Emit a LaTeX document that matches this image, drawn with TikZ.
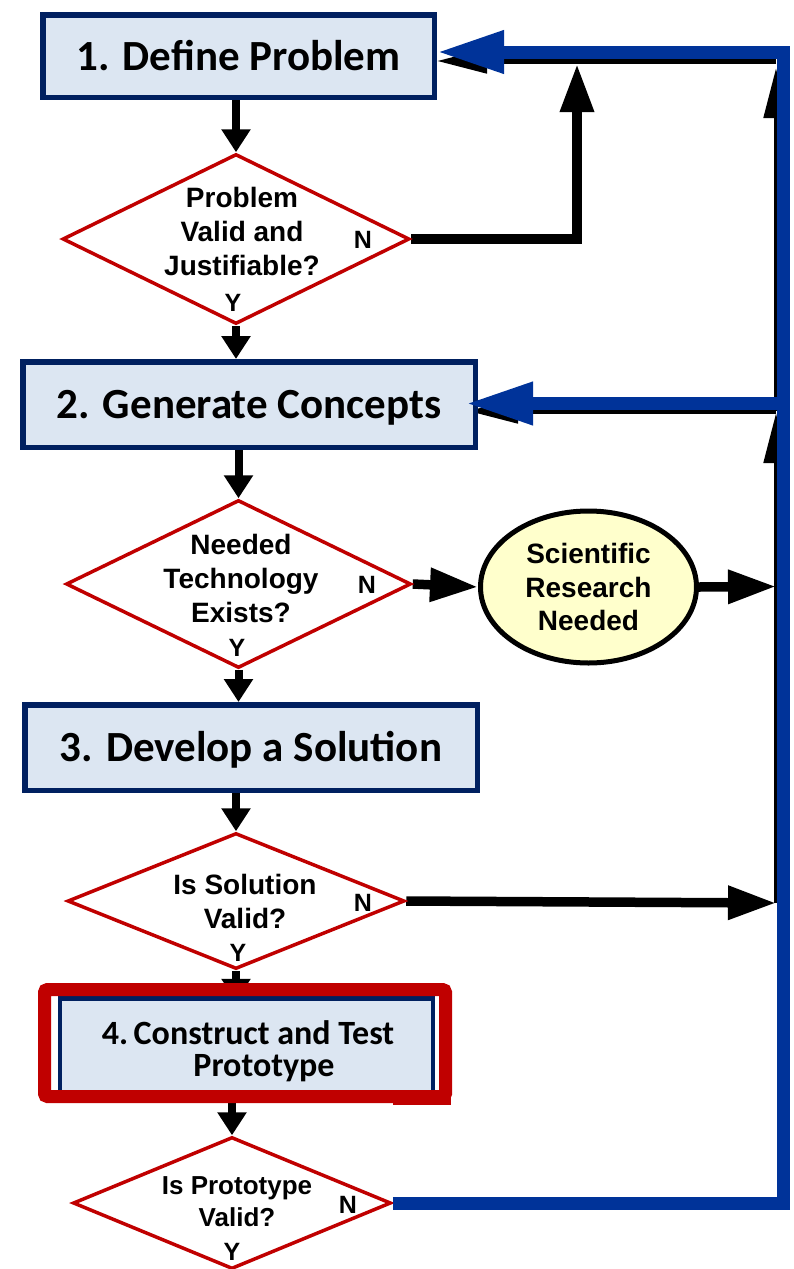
\documentclass[tikz,border=0pt]{standalone}
\usepackage{fontspec}
\usetikzlibrary{arrows.meta,shapes.geometric,backgrounds}
\newfontfamily\carlito{Carlito}
\newfontfamily\arial{Liberation Sans}
\definecolor{boxfill}{HTML}{DCE6F2}
\definecolor{navy}{HTML}{002060}
\definecolor{dred}{HTML}{C00000}
\definecolor{flowblue}{HTML}{003399}
\definecolor{research}{HTML}{FFFFCC}
\begin{document}
\begin{tikzpicture}[x=1pt,y=-1pt,
  stepbox/.style={rectangle, draw=navy, line width=5.5pt, fill=boxfill, inner sep=0pt,
    text height=28pt, text depth=0pt, font=\carlito\bfseries\fontsize{43}{46}\selectfont},
  decision/.style={diamond, draw=dred, line width=3.5pt, fill=white, inner sep=0pt},
  qtext/.style={font=\arial\bfseries\fontsize{28}{34}\selectfont, align=center, inner sep=0pt},
  yn/.style={font=\arial\bfseries\fontsize{25}{25}\selectfont, inner sep=0pt},
  downarrow/.style={draw=black, line width=8pt, -{Triangle[length=23pt,width=28pt]}},
  across/.style={draw=black, line width=9.5pt, -{Triangle[length=48pt,width=32pt]}},
  rail/.style={draw=black, line width=5pt, -{Triangle[length=50pt,width=24pt]}},
  returnline/.style={draw=flowblue, line width=13pt, line join=miter, -{Triangle[length=67pt,width=40pt]}},
]
\useasboundingbox (0,0) rectangle (794,1269);

% process steps
\node[stepbox, minimum width=391.5pt, minimum height=82.5pt] (b1) at (238.5,56) {1. Define Problem};
\node[stepbox, minimum width=452.5pt, minimum height=85.5pt] (b2) at (249,404.5) {2. Generate Concepts};
\node[stepbox, minimum width=452.5pt, minimum height=85.5pt] (b3) at (251,747.5) {3. Develop a Solution};
\node[rectangle, draw=navy, line width=4.5pt, fill=boxfill, inner sep=0pt,
      minimum width=373pt, minimum height=93.5pt] (b4) at (246.5,1045.25) {};
\node[inner sep=0pt, font=\carlito\bfseries\fontsize{34}{32}\selectfont] (t4) at (248,1053)
  {\begin{tabular}{@{}r@{\,}c@{}}4. & Construct and Test\\ & Prototype\end{tabular}};
% highlight frame around step 4
\node[draw=dred, line width=13pt, rounded corners=3pt, inner sep=0pt,
      minimum width=401pt, minimum height=107pt] (rf) at (245,1043) {};
\fill[dred] (393,1098) rectangle (451,1104.5);

% decisions
\node[decision, minimum width=347pt, minimum height=170pt] (d1) at (236,239) {};
\node[decision, minimum width=345pt, minimum height=168pt] (d2) at (238.5,584) {};
\node[decision, minimum width=337pt, minimum height=136pt] (d3) at (236,901) {};
\node[decision, minimum width=318pt, minimum height=132pt] (d4) at (232,1203) {};

\node[qtext] (q1) at (242,231) {Problem\\Valid and\\Justifiable?};
\node[qtext] (q2) at (241,578) {Needed\\Technology\\Exists?};
\node[qtext] (q3) at (245,901) {Is Solution\\Valid?};
\node[qtext, font=\arial\bfseries\fontsize{26}{32}\selectfont] (q4) at (237,1202) {Is Prototype\\Valid?};

\node[yn] (n1) at (363,240) {N};
\node[yn] (y1) at (233,303) {Y};
\node[yn] (n2) at (367,585) {N};
\node[yn] (y2) at (237,648) {Y};
\node[yn] (n3) at (363,903) {N};
\node[yn] (y3) at (238,953) {Y};
\node[yn] (n4) at (348,1205) {N};
\node[yn] (y4) at (232,1252) {Y};

% research ellipse
\node[ellipse, draw=black, line width=5pt, fill=research, inner sep=0pt,
      minimum width=216pt, minimum height=152pt, align=center,
      font=\arial\bfseries\fontsize{28}{33.5}\selectfont] (e) at (588.5,587)
  {Scientific\\Research\\Needed};

% junction points on the feedback rail
\coordinate (k1) at (577,64);
\coordinate (r2) at (776,586.5);
\coordinate (r3) at (776,903);
\coordinate (jb) at (776,411);
\coordinate (jt) at (776,61);
\coordinate (bb) at (783,1203);
\coordinate (bt) at (783,52);
\coordinate (bm) at (783,403.5);

\begin{scope}[on background layer]
  \draw[downarrow] (b1.south -| d1.north) -- (d1.north);
  \draw[downarrow] (d1.south) -- (d1.south |- b2.north);
  \draw[downarrow] (b2.south -| d2.north) -- (d2.north);
  \draw[downarrow] (d2.south) -- (d2.south |- b3.north);
  \draw[downarrow] (b3.south -| d3.north) -- (d3.north);
  \draw[downarrow, shorten >=-5.5pt] (d3.south) -- (d3.south |- b4.north);
  \draw[downarrow] (rf.south -| d4.north) -- (d4.north);

  \draw[across] (d1.east) -| (k1);
  \draw[across] (d2.east) -- (e.west);
  \draw[across] (e.east) -- (r2);
  \draw[across] (d3.east) -- (r3);

  \draw[rail, shorten >=2pt] (r3) -- (jb);
  \draw[rail, shorten >=7pt] (jb) -- (jt);
  \draw[rail] (jt) -- (jt -| b1.east);
  \draw[rail, shorten >=-10pt] (jb) -- (jb -| b2.east);
\end{scope}

% blue return path
\draw[returnline] (d4.east) -- (bb) -- (bt) -- (bt -| b1.east);
\draw[returnline, shorten >=-12pt] (bm) -- (bm -| b2.east);
\end{tikzpicture}
\end{document}
